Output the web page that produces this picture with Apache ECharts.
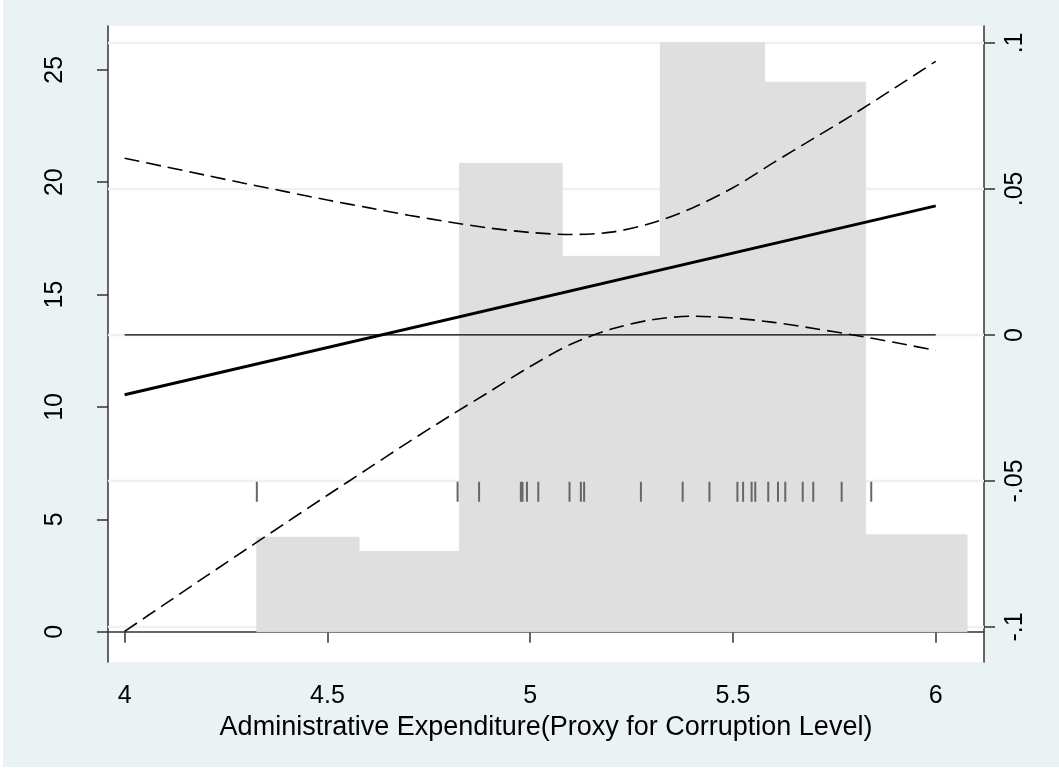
<!DOCTYPE html>
<html>
<head>
<meta charset="utf-8">
<script src="https://cdn.jsdelivr.net/npm/echarts@6/dist/echarts.min.js"></script>
<style>
  html, body { margin: 0; padding: 0; background: #ffffff; }
  #chart { position: absolute; left: 3px; top: 0; width: 1056px; height: 767px; }
</style>
</head>
<body>
<div id="chart"></div>
<script>
// ---- data ----
const xTickValues = [4, 4.5, 5, 5.5, 6];
const xTickLabels = ['4', '4.5', '5', '5.5', '6'];
const leftTickValues = [0, 5, 10, 15, 20, 25];
const leftTickLabels = ['0', '5', '10', '15', '20', '25'];
const rightTickValues = [-0.1, -0.05, 0, 0.05, 0.1];
const rightTickLabels = ['-.1', '-.05', '0', '.05', '.1'];

// histogram (left axis, percent)
const binEdges = [4.326, 4.578, 4.826, 5.079, 5.321, 5.578, 5.827, 6.077];
const binPercents = [4.2, 3.57, 20.84, 16.7, 26.2, 24.45, 4.31];

// rug of observed values
const rugValues = [4.326, 4.821, 4.874, 4.977, 4.981, 4.992, 5.020, 5.097, 5.125, 5.133,
  5.273, 5.376, 5.442, 5.511, 5.525, 5.546, 5.555, 5.587, 5.611, 5.629, 5.672, 5.698,
  5.768, 5.841];

// marginal effect and confidence interval (right axis)
const zValues = [4.0, 4.1, 4.2, 4.3, 4.4, 4.5, 4.6, 4.7, 4.8, 4.9, 5.0,
                 5.1, 5.2, 5.3, 5.4, 5.5, 5.6, 5.7, 5.8, 5.9, 6.0];
const upperCI = [0.0605, 0.0576, 0.0547, 0.0518, 0.0490, 0.0462, 0.0436, 0.0410, 0.0387, 0.0366, 0.0351,
                 0.0344, 0.0352, 0.0383, 0.0435, 0.0504, 0.0590, 0.0674, 0.0758, 0.0847, 0.0937];
const lowerCI = [-0.1015, -0.0921, -0.0827, -0.0734, -0.0641, -0.0549, -0.0458, -0.0367, -0.0279, -0.0194, -0.0108,
                 -0.0032, 0.0020, 0.0052, 0.0064, 0.0058, 0.0043, 0.0022, -0.0001, -0.0026, -0.0053];
const estZ = [4, 6];
const estimate = [-0.0205, 0.0442];
const zeroZ = [4, 6];
const zeroLine = [0, 0];

// ---- presentation ----
const rugLevel = -0.0537;
const FONT = 'Liberation Sans, Arial, Helvetica, sans-serif';
const AXIS_COLOR = '#333333';
const GRID_COLOR = '#eaf2f3';

function labelFor(values, labels) {
  return function (v) {
    for (let i = 0; i < values.length; i++) {
      if (Math.abs(values[i] - v) < 1e-9) return labels[i];
    }
    return '';
  };
}

const chart = echarts.init(document.getElementById('chart'), null, { renderer: 'canvas' });

const option = {
  animation: false,
  backgroundColor: '#eaf2f3',
  grid: {
    left: 105, right: 75, top: 26, bottom: 105,
    show: true, backgroundColor: '#ffffff', borderWidth: 0
  },
  xAxis: {
    type: 'value',
    min: 3.959, max: 6.119,
    name: 'Administrative Expenditure(Proxy for Corruption Level)',
    nameLocation: 'middle',
    nameGap: 41,
    nameTextStyle: { fontFamily: FONT, fontSize: 27, color: '#000' },
    axisLine: { show: true, lineStyle: { color: AXIS_COLOR, width: 1.5 } },
    axisTick: { show: true, length: 11, customValues: xTickValues, lineStyle: { color: AXIS_COLOR, width: 1.5 } },
    axisLabel: {
      customValues: xTickValues,
      formatter: labelFor(xTickValues, xTickLabels),
      fontFamily: FONT, fontSize: 25, color: '#000', margin: 22
    },
    splitLine: { show: false }
  },
  yAxis: [
    {
      type: 'value', position: 'left',
      min: -1.347, max: 26.95,
      axisLine: { show: true, onZero: false, lineStyle: { color: AXIS_COLOR, width: 1.5 } },
      axisTick: { show: true, length: 11, customValues: leftTickValues, lineStyle: { color: AXIS_COLOR, width: 1.5 } },
      axisLabel: {
        customValues: leftTickValues,
        formatter: labelFor(leftTickValues, leftTickLabels),
        rotate: 90, fontFamily: FONT, fontSize: 25, color: '#000', margin: 40
      },
      splitLine: { show: false }
    },
    {
      type: 'value', position: 'right',
      min: -0.112, max: 0.1058,
      axisLine: { show: true, onZero: false, lineStyle: { color: AXIS_COLOR, width: 1.5 } },
      axisTick: { show: true, length: 11, customValues: rightTickValues, lineStyle: { color: AXIS_COLOR, width: 1.5 } },
      axisLabel: {
        customValues: rightTickValues,
        formatter: labelFor(rightTickValues, rightTickLabels),
        rotate: 90, fontFamily: FONT, fontSize: 25, color: '#000', margin: 19
      },
      splitLine: { show: false }
    }
  ],
  series: [
    {
      // gridlines at right-axis ticks, behind everything
      type: 'custom', yAxisIndex: 1, z: 1, silent: true,
      data: rightTickValues.map(v => [xTickValues[0], v]),
      renderItem: function (params, api) {
        const cs = params.coordSys;
        const p = api.coord([api.value(0), api.value(1)]);
        return {
          type: 'line',
          shape: { x1: cs.x, y1: p[1], x2: cs.x + cs.width, y2: p[1] },
          style: { stroke: GRID_COLOR, lineWidth: 2.5 }
        };
      }
    },
    {
      type: 'custom', yAxisIndex: 0, z: 2, silent: true,
      data: binPercents.map((h, i) => [binEdges[i], binEdges[i + 1], h]),
      renderItem: function (params, api) {
        const p0 = api.coord([api.value(0), api.value(2)]);
        const p1 = api.coord([api.value(1), 0]);
        return {
          type: 'rect',
          shape: { x: p0[0], y: p0[1], width: p1[0] - p0[0], height: p1[1] - p0[1] },
          style: { fill: '#dfdfdf', stroke: '#dfdfdf', lineWidth: 1 }
        };
      }
    },
    {
      type: 'scatter', yAxisIndex: 1, z: 3, silent: true,
      data: rugValues.map(v => [v, rugLevel]),
      symbol: 'rect', symbolSize: [2, 20],
      itemStyle: { color: '#666666', opacity: 1 }
    },
    {
      type: 'line', yAxisIndex: 1, z: 4, silent: true,
      data: zeroZ.map((z, i) => [z, zeroLine[i]]),
      symbol: 'none', lineStyle: { color: '#000', width: 1.3 }
    },
    {
      type: 'line', yAxisIndex: 1, z: 5, silent: true,
      data: zValues.map((z, i) => [z, upperCI[i]]),
      symbol: 'none', smooth: 0.3,
      lineStyle: { color: '#000', width: 1.6, type: [15, 7] }
    },
    {
      type: 'line', yAxisIndex: 1, z: 5, silent: true,
      data: zValues.map((z, i) => [z, lowerCI[i]]),
      symbol: 'none', smooth: 0.3,
      lineStyle: { color: '#000', width: 1.6, type: [15, 7] }
    },
    {
      type: 'line', yAxisIndex: 1, z: 6, silent: true,
      data: estZ.map((z, i) => [z, estimate[i]]),
      symbol: 'none', lineStyle: { color: '#000', width: 3 }
    }
  ]
};

chart.setOption(option);
</script>
</body>
</html>
